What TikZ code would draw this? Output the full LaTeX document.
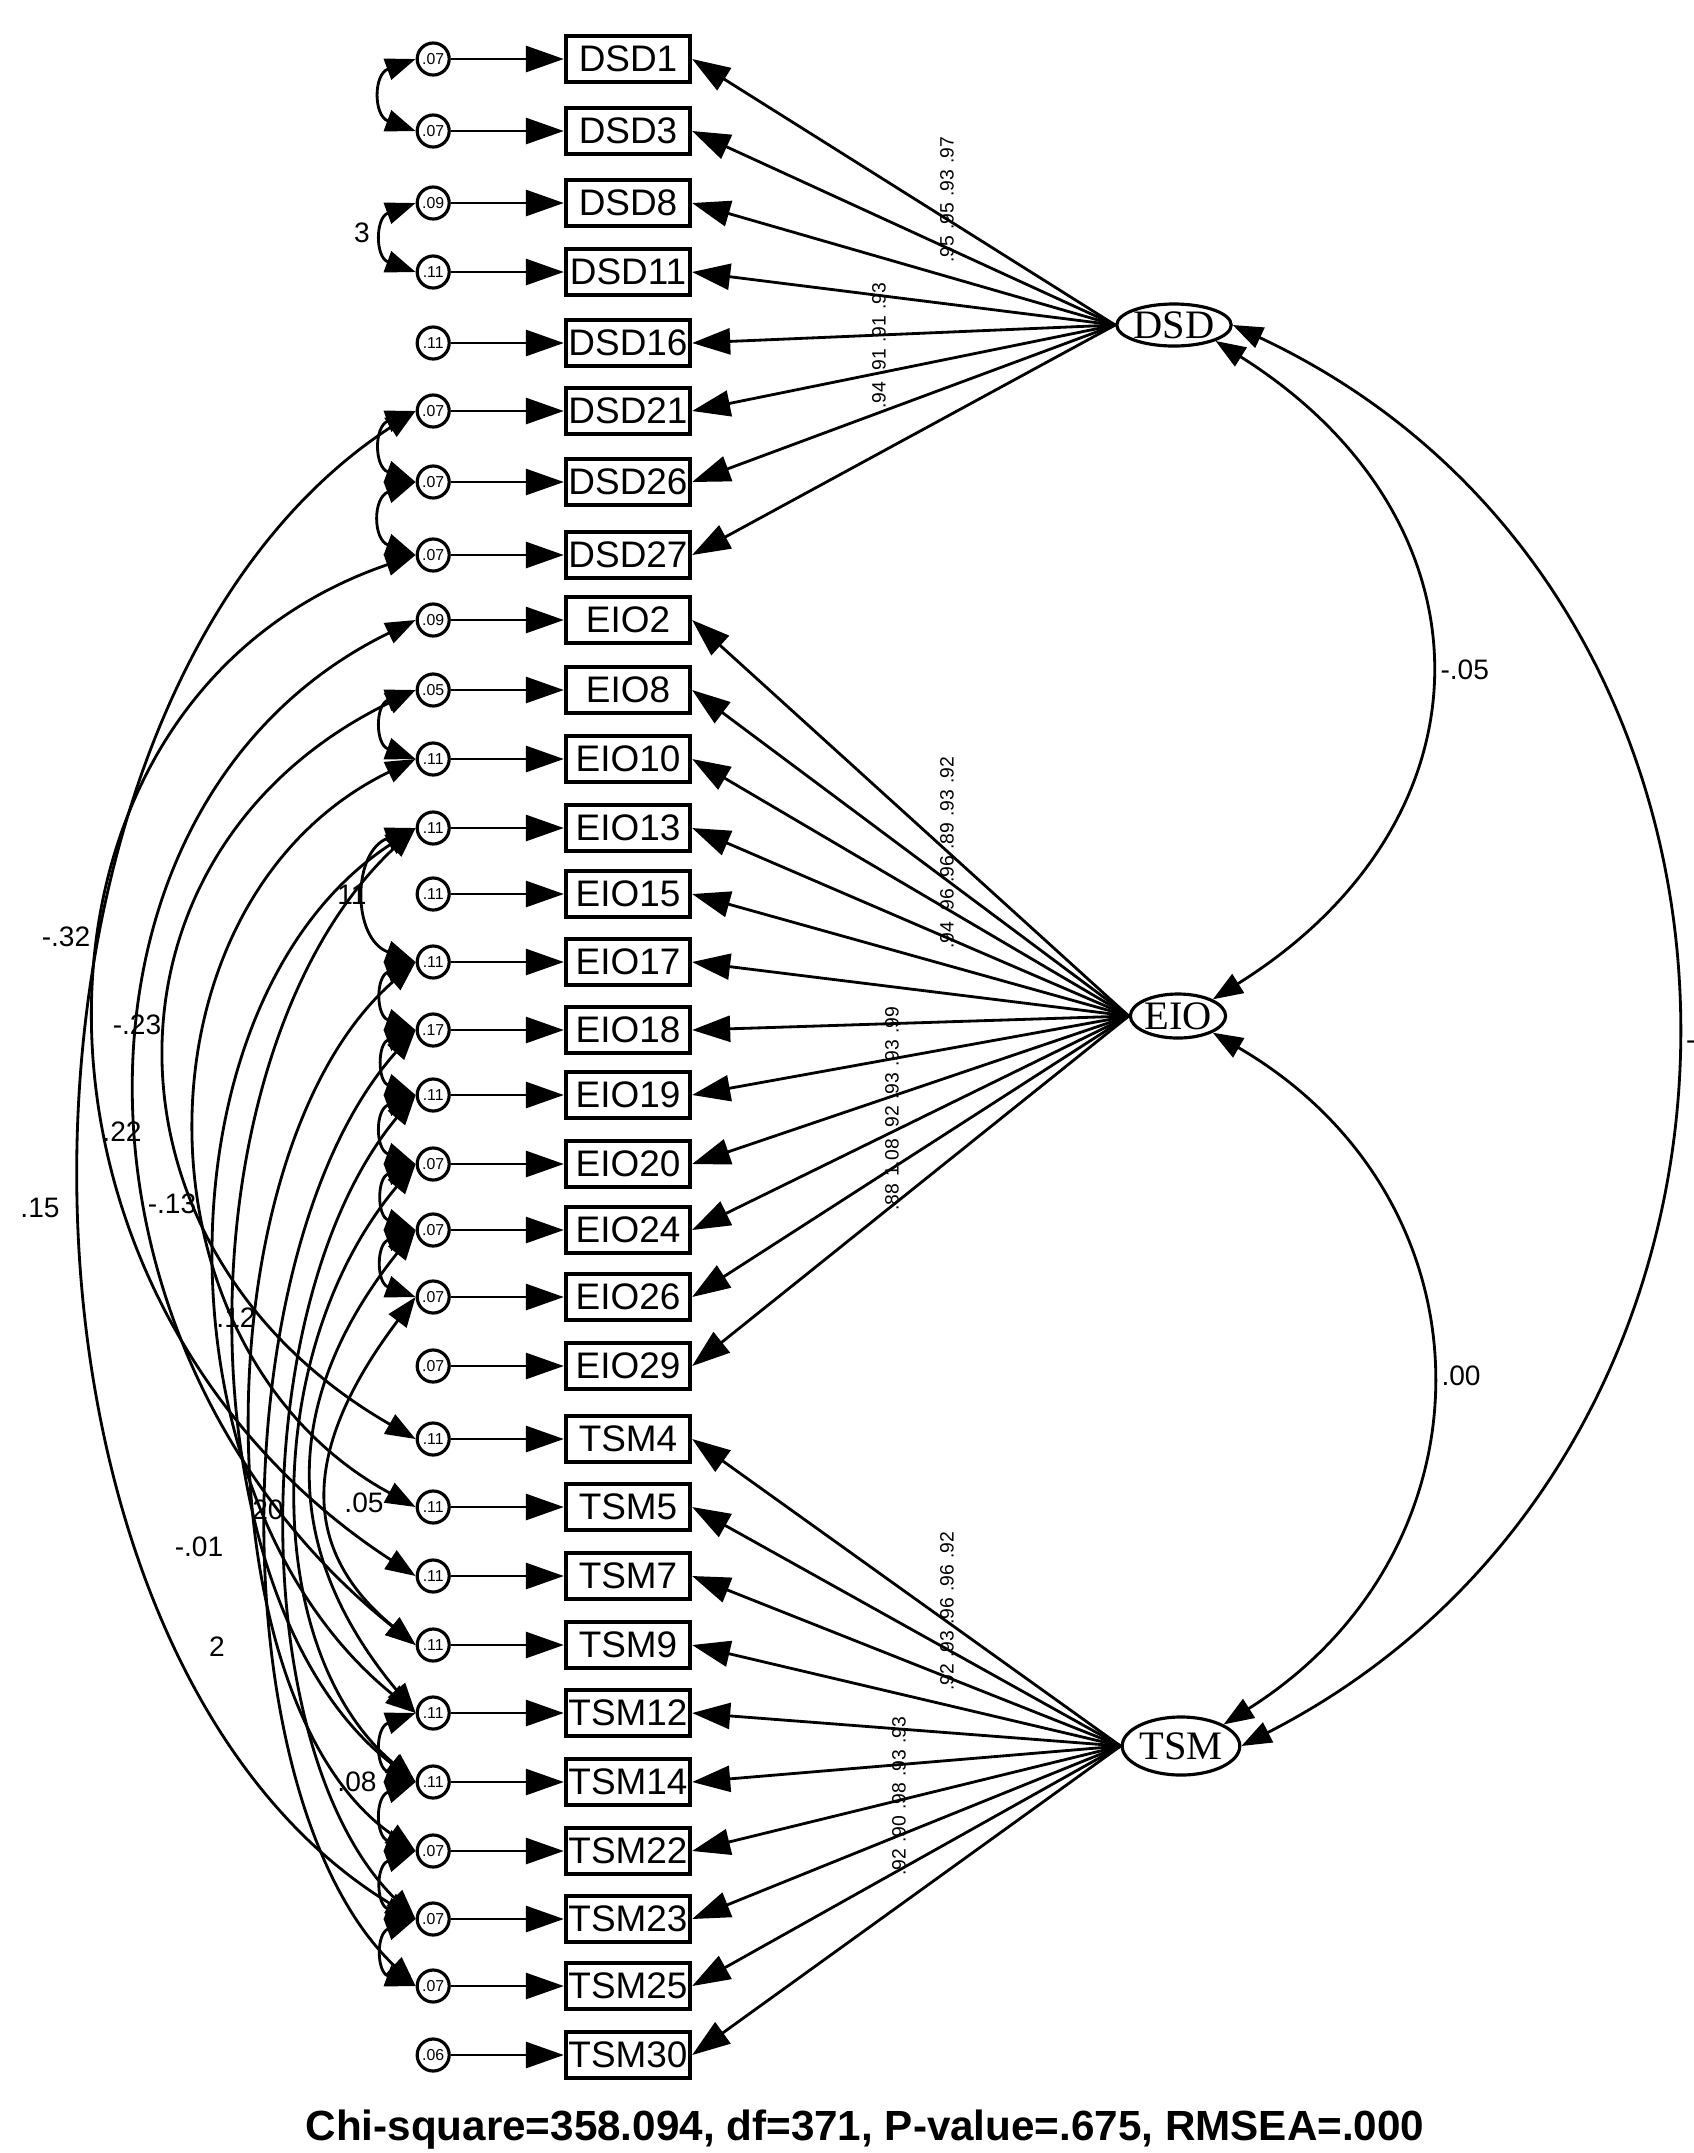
\documentclass[tikz,border=0pt]{standalone}
\usepackage{fontspec}
\setmainfont{Liberation Sans}
\newfontfamily\latfont{Liberation Serif}
\usetikzlibrary{arrows.meta,positioning,shapes.geometric}

\begin{document}
\begin{tikzpicture}[
  x=0.01cm,y=-0.01cm,
  font=\fontsize{10.5}{12}\selectfont,
  ind/.style={draw,line width=1.2pt,minimum width=1.24cm,minimum height=0.46cm,inner sep=0pt},
  err/.style={draw,circle,line width=0.9pt,minimum size=0.32cm,inner sep=0pt,
              font=\fontsize{4.5}{4.5}\selectfont},
  lat/.style={draw,ellipse,line width=0.9pt,inner sep=0pt,
              font=\latfont\fontsize{11.5}{12}\selectfont},
  ld/.style={line width=0.8pt,-{Triangle[length=3.8mm,width=2.6mm]}},
  cv/.style={line width=0.8pt,{Triangle[length=3mm,width=2.2mm]}-{Triangle[length=3mm,width=2.2mm]}},
  lbl/.style={font=\fontsize{8}{8}\selectfont,inner sep=1pt},
  rlbl/.style={font=\fontsize{5.5}{5.5}\selectfont,inner sep=0.3pt,rotate=90}
]
\useasboundingbox (0,0) rectangle (1694,2153);
\clip (0,0) rectangle (1694,2153);

% observed variables
\node[ind] (DSD1) at (628,59) {DSD1};
\node[ind] (DSD3) at (628,131) {DSD3};
\node[ind] (DSD8) at (628,203) {DSD8};
\node[ind] (DSD11) at (628,272) {DSD11};
\node[ind] (DSD16) at (628,343) {DSD16};
\node[ind] (DSD21) at (628,411) {DSD21};
\node[ind] (DSD26) at (628,482) {DSD26};
\node[ind] (DSD27) at (628,555) {DSD27};
\node[ind] (EIO2) at (628,620) {EIO2};
\node[ind] (EIO8) at (628,690) {EIO8};
\node[ind] (EIO10) at (628,759) {EIO10};
\node[ind] (EIO13) at (628,828) {EIO13};
\node[ind] (EIO15) at (628,894) {EIO15};
\node[ind] (EIO17) at (628,962) {EIO17};
\node[ind] (EIO18) at (628,1030) {EIO18};
\node[ind] (EIO19) at (628,1095) {EIO19};
\node[ind] (EIO20) at (628,1164) {EIO20};
\node[ind] (EIO24) at (628,1230) {EIO24};
\node[ind] (EIO26) at (628,1297) {EIO26};
\node[ind] (EIO29) at (628,1366) {EIO29};
\node[ind] (TSM4) at (628,1439) {TSM4};
\node[ind] (TSM5) at (628,1507) {TSM5};
\node[ind] (TSM7) at (628,1576) {TSM7};
\node[ind] (TSM9) at (628,1645) {TSM9};
\node[ind] (TSM12) at (628,1713) {TSM12};
\node[ind] (TSM14) at (628,1782) {TSM14};
\node[ind] (TSM22) at (628,1851) {TSM22};
\node[ind] (TSM23) at (628,1919) {TSM23};
\node[ind] (TSM25) at (628,1986) {TSM25};
\node[ind] (TSM30) at (628,2055) {TSM30};

% error terms
\node[err,left=1.13cm of DSD1] (eDSD1) {.07};
\node[err,left=1.13cm of DSD3] (eDSD3) {.07};
\node[err,left=1.13cm of DSD8] (eDSD8) {.09};
\node[err,left=1.13cm of DSD11] (eDSD11) {.11};
\node[err,left=1.13cm of DSD16] (eDSD16) {.11};
\node[err,left=1.13cm of DSD21] (eDSD21) {.07};
\node[err,left=1.13cm of DSD26] (eDSD26) {.07};
\node[err,left=1.13cm of DSD27] (eDSD27) {.07};
\node[err,left=1.13cm of EIO2] (eEIO2) {.09};
\node[err,left=1.13cm of EIO8] (eEIO8) {.05};
\node[err,left=1.13cm of EIO10] (eEIO10) {.11};
\node[err,left=1.13cm of EIO13] (eEIO13) {.11};
\node[err,left=1.13cm of EIO15] (eEIO15) {.11};
\node[err,left=1.13cm of EIO17] (eEIO17) {.11};
\node[err,left=1.13cm of EIO18] (eEIO18) {.17};
\node[err,left=1.13cm of EIO19] (eEIO19) {.11};
\node[err,left=1.13cm of EIO20] (eEIO20) {.07};
\node[err,left=1.13cm of EIO24] (eEIO24) {.07};
\node[err,left=1.13cm of EIO26] (eEIO26) {.07};
\node[err,left=1.13cm of EIO29] (eEIO29) {.07};
\node[err,left=1.13cm of TSM4] (eTSM4) {.11};
\node[err,left=1.13cm of TSM5] (eTSM5) {.11};
\node[err,left=1.13cm of TSM7] (eTSM7) {.11};
\node[err,left=1.13cm of TSM9] (eTSM9) {.11};
\node[err,left=1.13cm of TSM12] (eTSM12) {.11};
\node[err,left=1.13cm of TSM14] (eTSM14) {.11};
\node[err,left=1.13cm of TSM22] (eTSM22) {.07};
\node[err,left=1.13cm of TSM23] (eTSM23) {.07};
\node[err,left=1.13cm of TSM25] (eTSM25) {.07};
\node[err,left=1.13cm of TSM30] (eTSM30) {.06};

% latent variables
\node[lat,minimum width=1.08cm,minimum height=0.42cm] (DSD) at (1174,325) {DSD};
\node[lat,minimum width=0.76cm,minimum height=0.44cm] (EIO) at (1178,1016) {EIO};
\node[lat,minimum width=0.64cm,minimum height=0.58cm] (TSM) at (1181,1746) {TSM};

% error paths
\draw[ld] (eDSD1) -- (DSD1); \draw[ld] (eDSD3) -- (DSD3); \draw[ld] (eDSD8) -- (DSD8);
\draw[ld] (eDSD11) -- (DSD11); \draw[ld] (eDSD16) -- (DSD16); \draw[ld] (eDSD21) -- (DSD21);
\draw[ld] (eDSD26) -- (DSD26); \draw[ld] (eDSD27) -- (DSD27);
\draw[ld] (eEIO2) -- (EIO2); \draw[ld] (eEIO8) -- (EIO8); \draw[ld] (eEIO10) -- (EIO10);
\draw[ld] (eEIO13) -- (EIO13); \draw[ld] (eEIO15) -- (EIO15); \draw[ld] (eEIO17) -- (EIO17);
\draw[ld] (eEIO18) -- (EIO18); \draw[ld] (eEIO19) -- (EIO19); \draw[ld] (eEIO20) -- (EIO20);
\draw[ld] (eEIO24) -- (EIO24); \draw[ld] (eEIO26) -- (EIO26); \draw[ld] (eEIO29) -- (EIO29);
\draw[ld] (eTSM4) -- (TSM4); \draw[ld] (eTSM5) -- (TSM5); \draw[ld] (eTSM7) -- (TSM7);
\draw[ld] (eTSM9) -- (TSM9); \draw[ld] (eTSM12) -- (TSM12); \draw[ld] (eTSM14) -- (TSM14);
\draw[ld] (eTSM22) -- (TSM22); \draw[ld] (eTSM23) -- (TSM23); \draw[ld] (eTSM25) -- (TSM25);
\draw[ld] (eTSM30) -- (TSM30);

% loadings
\draw[ld] (DSD.west) -- (DSD1.east); \draw[ld] (DSD.west) -- (DSD3.east);
\draw[ld] (DSD.west) -- (DSD8.east); \draw[ld] (DSD.west) -- (DSD11.east);
\draw[ld] (DSD.west) -- (DSD16.east); \draw[ld] (DSD.west) -- (DSD21.east);
\draw[ld] (DSD.west) -- (DSD26.east); \draw[ld] (DSD.west) -- (DSD27.east);
\draw[ld] (EIO.west) -- (EIO2.east); \draw[ld] (EIO.west) -- (EIO8.east);
\draw[ld] (EIO.west) -- (EIO10.east); \draw[ld] (EIO.west) -- (EIO13.east);
\draw[ld] (EIO.west) -- (EIO15.east); \draw[ld] (EIO.west) -- (EIO17.east);
\draw[ld] (EIO.west) -- (EIO18.east); \draw[ld] (EIO.west) -- (EIO19.east);
\draw[ld] (EIO.west) -- (EIO20.east); \draw[ld] (EIO.west) -- (EIO24.east);
\draw[ld] (EIO.west) -- (EIO26.east); \draw[ld] (EIO.west) -- (EIO29.east);
\draw[ld] (TSM.west) -- (TSM4.east); \draw[ld] (TSM.west) -- (TSM5.east);
\draw[ld] (TSM.west) -- (TSM7.east); \draw[ld] (TSM.west) -- (TSM9.east);
\draw[ld] (TSM.west) -- (TSM12.east); \draw[ld] (TSM.west) -- (TSM14.east);
\draw[ld] (TSM.west) -- (TSM22.east); \draw[ld] (TSM.west) -- (TSM23.east);
\draw[ld] (TSM.west) -- (TSM25.east); \draw[ld] (TSM.west) -- (TSM30.east);

% loading values
\node[rlbl] (vD1) at (947,150) {.97}; \node[rlbl] (vD2) at (947,183) {.93};
\node[rlbl] (vD3) at (947,216) {.95}; \node[rlbl] (vD4) at (947,249) {.95};
\node[rlbl] (vD5) at (879,296) {.93}; \node[rlbl] (vD6) at (879,329) {.91};
\node[rlbl] (vD7) at (879,362) {.91}; \node[rlbl] (vD8) at (879,395) {.94};
\node[rlbl] (vE1) at (947,770) {.92}; \node[rlbl] (vE2) at (947,803) {.93};
\node[rlbl] (vE3) at (947,836) {.89}; \node[rlbl] (vE4) at (947,869) {.96};
\node[rlbl] (vE5) at (947,902) {.96}; \node[rlbl] (vE6) at (947,935) {.94};
\node[rlbl] (vE7) at (892,1020) {.99}; \node[rlbl] (vE8) at (892,1053) {.93};
\node[rlbl] (vE9) at (892,1086) {.93}; \node[rlbl] (vE10) at (892,1119) {.92};
\node[rlbl] (vE11) at (892,1158) {1.08}; \node[rlbl] (vE12) at (892,1197) {.88};
\node[rlbl] (vT1) at (947,1545) {.92}; \node[rlbl] (vT2) at (947,1578) {.96};
\node[rlbl] (vT3) at (947,1611) {.96}; \node[rlbl] (vT4) at (947,1644) {.93};
\node[rlbl] (vT5) at (947,1677) {.92};
\node[rlbl] (vT6) at (899,1730) {.93}; \node[rlbl] (vT7) at (899,1763) {.93};
\node[rlbl] (vT8) at (899,1796) {.98}; \node[rlbl] (vT9) at (899,1829) {.90};
\node[rlbl] (vT10) at (899,1862) {.92};

% factor covariances
\draw[cv] (DSD.south east) .. controls (1500,520) and (1500,820) .. (EIO.north east)
  node[lbl,pos=0.5,right=2pt] (cDE) {-.05};
\draw[cv] (EIO.south east) .. controls (1500,1200) and (1500,1550) .. (TSM.north east)
  node[lbl,pos=0.5,right=2pt] (cET) {.00};
\draw[cv] (DSD.east) .. controls (1820,600) and (1820,1450) .. (TSM.east);
\node[lbl,anchor=west] (cDT) at (1682,1040) {-.04};

% error covariances, short
\draw[cv] (eDSD1.west) to[out=200,in=160,looseness=1.6] (eDSD3.west);
\draw[cv] (eDSD8.west) to[out=200,in=160,looseness=1.6] (eDSD11.west);
\draw[cv] (eDSD21.west) to[out=200,in=160,looseness=1.6] (eDSD26.west);
\draw[cv] (eDSD26.west) to[out=200,in=160,looseness=1.6] (eDSD27.west);
\draw[cv] (eEIO8.west) to[out=200,in=160,looseness=1.6] (eEIO10.west);
\draw[cv] (eEIO13.west) to[out=200,in=160,looseness=1.3] (eEIO17.west);
\draw[cv] (eEIO17.west) to[out=200,in=160,looseness=1.6] (eEIO18.west);
\draw[cv] (eEIO18.west) to[out=200,in=160,looseness=1.6] (eEIO19.west);
\draw[cv] (eEIO19.west) to[out=200,in=160,looseness=1.6] (eEIO20.west);
\draw[cv] (eEIO20.west) to[out=200,in=160,looseness=1.6] (eEIO24.west);
\draw[cv] (eEIO24.west) to[out=200,in=160,looseness=1.6] (eEIO26.west);
\draw[cv] (eTSM12.west) to[out=200,in=160,looseness=1.6] (eTSM14.west);
\draw[cv] (eTSM14.west) to[out=200,in=160,looseness=1.6] (eTSM22.west);
\draw[cv] (eTSM22.west) to[out=200,in=160,looseness=1.6] (eTSM23.west);
\draw[cv] (eTSM23.west) to[out=200,in=160,looseness=1.6] (eTSM25.west);
\node[lbl] (c3) at (362,233) {3};
\node[lbl] (c11) at (352,895) {11};

% error covariances, long
\draw[cv] (eDSD21.west) .. controls (-28,700) and (-28,1650) .. (eTSM23.west);
\draw[cv] (eDSD27.west) .. controls (-8,700) and (-8,1300) .. (eTSM7.west);
\draw[cv] (eEIO2.west) .. controls (46,800) and (46,1350) .. (eTSM9.west);
\draw[cv] (eEIO8.west) .. controls (86,850) and (86,1250) .. (eTSM4.west);
\draw[cv] (eEIO10.west) .. controls (126,900) and (126,1350) .. (eTSM5.west);
\draw[cv] (eEIO13.west) .. controls (152,1000) and (152,1500) .. (eTSM12.west);
\draw[cv] (eEIO13.west) .. controls (178,1050) and (178,1600) .. (eTSM14.west);
\draw[cv] (eEIO17.west) .. controls (200,1150) and (200,1700) .. (eTSM22.west);
\draw[cv] (eEIO18.west) .. controls (220,1250) and (220,1800) .. (eTSM25.west);
\draw[cv] (eEIO19.west) .. controls (245,1300) and (245,1750) .. (eTSM23.west);
\draw[cv] (eEIO20.west) .. controls (260,1350) and (260,1650) .. (eTSM14.west);
\draw[cv] (eEIO24.west) .. controls (280,1400) and (280,1550) .. (eTSM12.west);
\draw[cv] (eEIO26.west) .. controls (300,1450) and (300,1550) .. (eTSM9.west);
\node[lbl] (c1) at (66,937) {-.32};
\node[lbl] (c2) at (137,1025) {-.23};
\node[lbl] (c4) at (122,1132) {.22};
\node[lbl] (c5) at (40,1208) {.15};
\node[lbl] (c6) at (172,1204) {-.13};
\node[lbl] (c7) at (236,1318) {.12};
\node[lbl] (c8) at (199,1547) {-.01};
\node[lbl] (c9) at (268,1510) {20};
\node[lbl] (c10) at (364,1503) {.05};
\node[lbl] (c12) at (217,1647) {2};
\node[lbl] (c13) at (357,1782) {.08};

% fit statistics
\node[font=\fontsize{12}{14}\selectfont\bfseries] (fit) at (865,2130)
  {Chi-square=358.094, df=371, P-value=.675, RMSEA=.000};
\end{tikzpicture}
\end{document}
